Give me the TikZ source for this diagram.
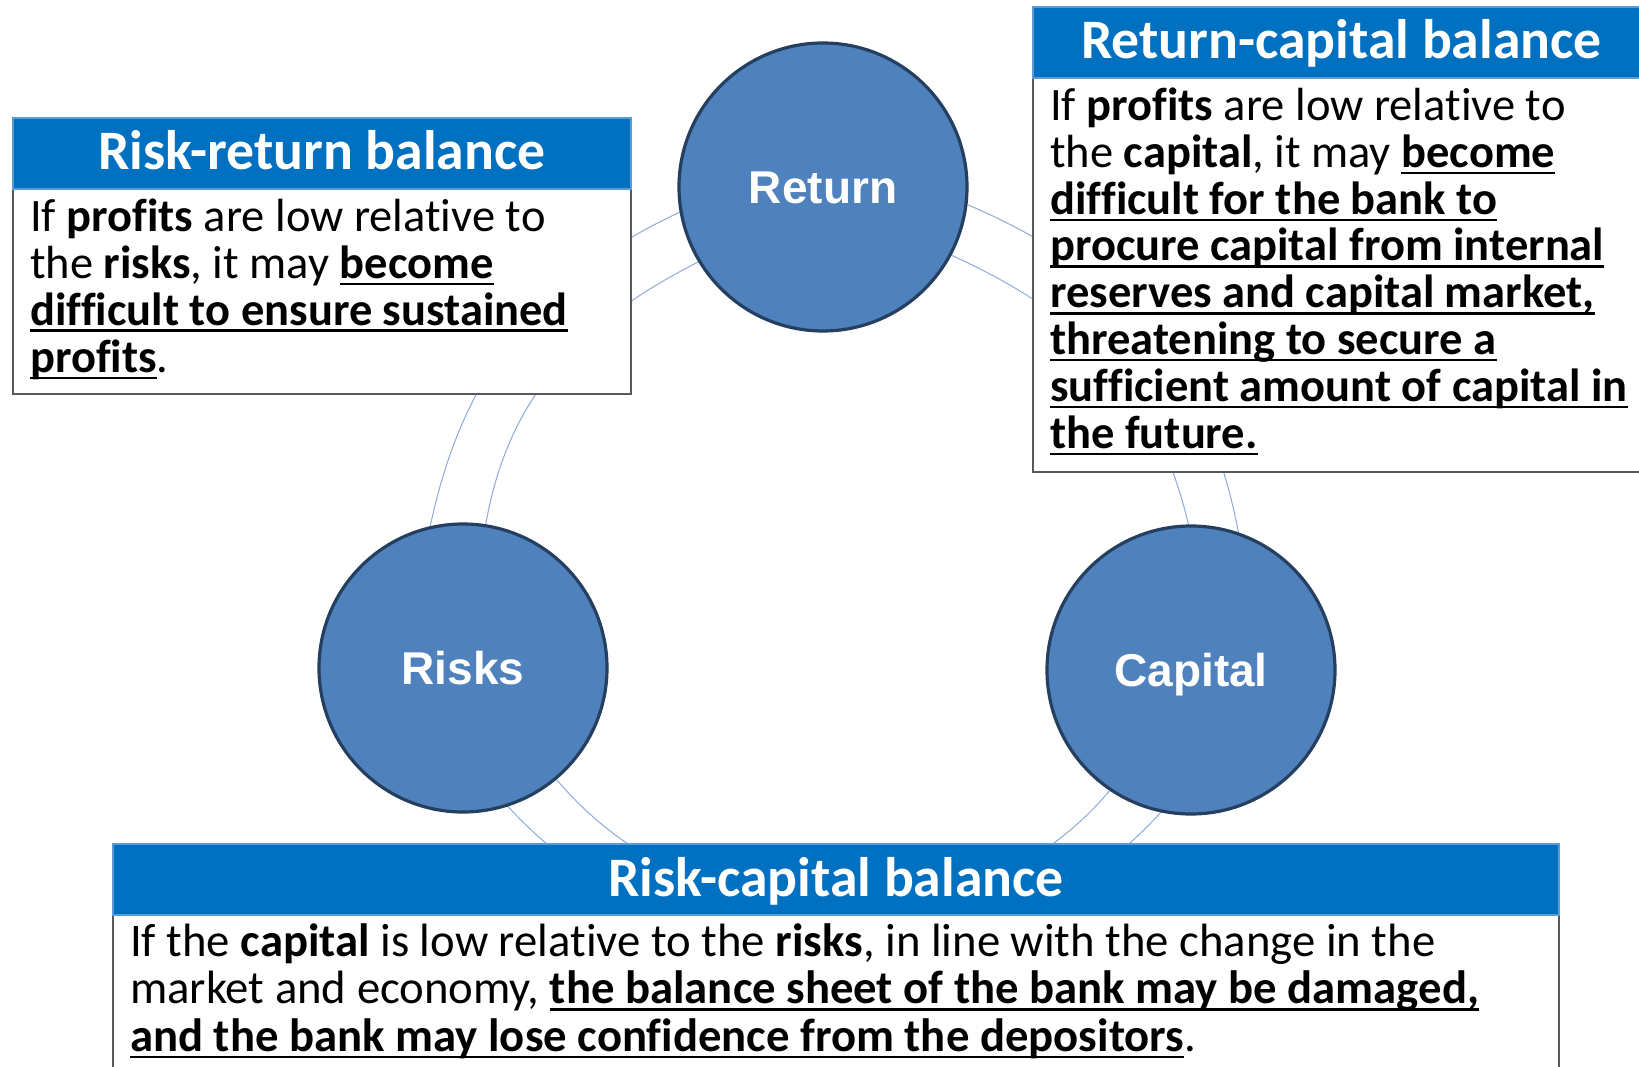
\documentclass[tikz,border=0pt]{standalone}
\usepackage{fontspec}
\usetikzlibrary{backgrounds}
\setmainfont{Carlito}[Ligatures=NoCommon]
\newfontfamily\circfont{Liberation Sans}
\definecolor{circfill}{HTML}{4F81BD}
\definecolor{circline}{HTML}{243F60}
\definecolor{headfill}{HTML}{0070C0}
\definecolor{headline}{HTML}{5B9BD5}
\definecolor{bodyline}{HTML}{595959}
\definecolor{arcline}{HTML}{8EA9DB}
\newcommand\ulx[1]{\setbox0\hbox{#1}\rlap{\rule[-7pt]{\wd0}{2.5pt}}\box0}
\tikzset{
  circ/.style={circle, minimum size=288pt, inner sep=0pt, fill=circfill, draw=circline,
    line width=3.2pt, text=white, font=\circfont\bfseries\fontsize{46}{50}\selectfont,
    text height=33pt, text depth=0pt},
  arcl/.style={draw=arcline, line width=1pt},
  headbox/.style={fill=headfill, draw=headline, line width=1.5pt},
  bodybox/.style={fill=white, draw=bodyline, line width=1.5pt},
  headtext/.style={anchor=base, inner sep=0pt, text=white, font=\fontsize{55.7}{60}\selectfont\bfseries},
  bodytext/.style={anchor=base west, inner sep=0pt, align=left, font=\fontsize{46.5}{47}\selectfont}
}
\begin{document}
\begin{tikzpicture}[x=1pt,y=1pt]
\useasboundingbox (0,0) rectangle (1639,-1067);
\clip (0,0) rectangle (1639,-1067);
% circles
\node[circ] (ret) at (823,-187) {Return};
\node[circ] (risk) at (463,-668) {Risks};
\node[circ] (cap) at (1191,-670) {Capital};
% connecting arcs (behind the circles)
\begin{pgfonlayer}{background}
\fill[white] (0,0) rectangle (1639,-1067);
\draw[arcl] (ret.190.9) to[out=205,in=78] (risk.103);
\draw[arcl] (ret.211.6) to[out=207,in=80] (risk.81.6);
\draw[arcl] (ret.-7.8) to[out=-22.9,in=100.7] (cap.71);
\draw[arcl] (ret.-28.7) to[out=-24.3,in=103.3] (cap.91);
\draw[arcl] (risk.-72.4) to[out=-47.5,in=227.8] (cap.-102.4);
\draw[arcl] (risk.-50.7) to[out=-50,in=230] (cap.-124.9);
\end{pgfonlayer}
% Risk-return box
\draw[bodybox] (13,-189) rectangle (631,-394);
\draw[headbox] (13,-118) rectangle (631,-189);
\node[headtext] (rrhead) at (322,-170) {Risk-return balance};
\node[bodytext] (rrtext) at (30,-372) {If \textbf{profits} are low relative to\\
the \textbf{risks}, it may \ulx{\textbf{become}}\\
\ulx{\textbf{difficult to ensure sustained}}\\
\ulx{\textbf{profits}}.};
% Return-capital box
\draw[bodybox] (1033,-78) rectangle (1650,-472);
\draw[headbox] (1033,-7) rectangle (1650,-78);
\node[headtext] (rchead) at (1341.5,-59) {Return-capital balance};
\node[bodytext, font=\fontsize{46.5}{46.8}\selectfont] (rctext) at (1050,-448) {If \textbf{profits} are low relative to\\
the \textbf{capital}, it may \ulx{\textbf{become}}\\
\ulx{\textbf{difficult for the bank to}}\\
\ulx{\textbf{procure capital from internal}}\\
\ulx{\textbf{reserves and capital market,}}\\
\ulx{\textbf{threatening to secure a}}\\
\ulx{\textbf{sufficient amount of capital in}}\\
\ulx{\textbf{the future.}}};
% Risk-capital box
\draw[bodybox] (113,-915) rectangle (1559,-1090);
\draw[headbox] (113,-844) rectangle (1559,-915);
\node[headtext] (kchead) at (836,-896) {Risk-capital balance};
\node[bodytext, font=\fontsize{46.7}{47.5}\selectfont] (kctext) at (130,-1051) {If the \textbf{capital} is low relative to the \textbf{risks}, in line with the change in the\\
market and economy, \ulx{\textbf{the balance sheet of the bank may be damaged,}}\\
\ulx{\textbf{and the bank may lose confidence from the depositors}}.};
\end{tikzpicture}
\end{document}
